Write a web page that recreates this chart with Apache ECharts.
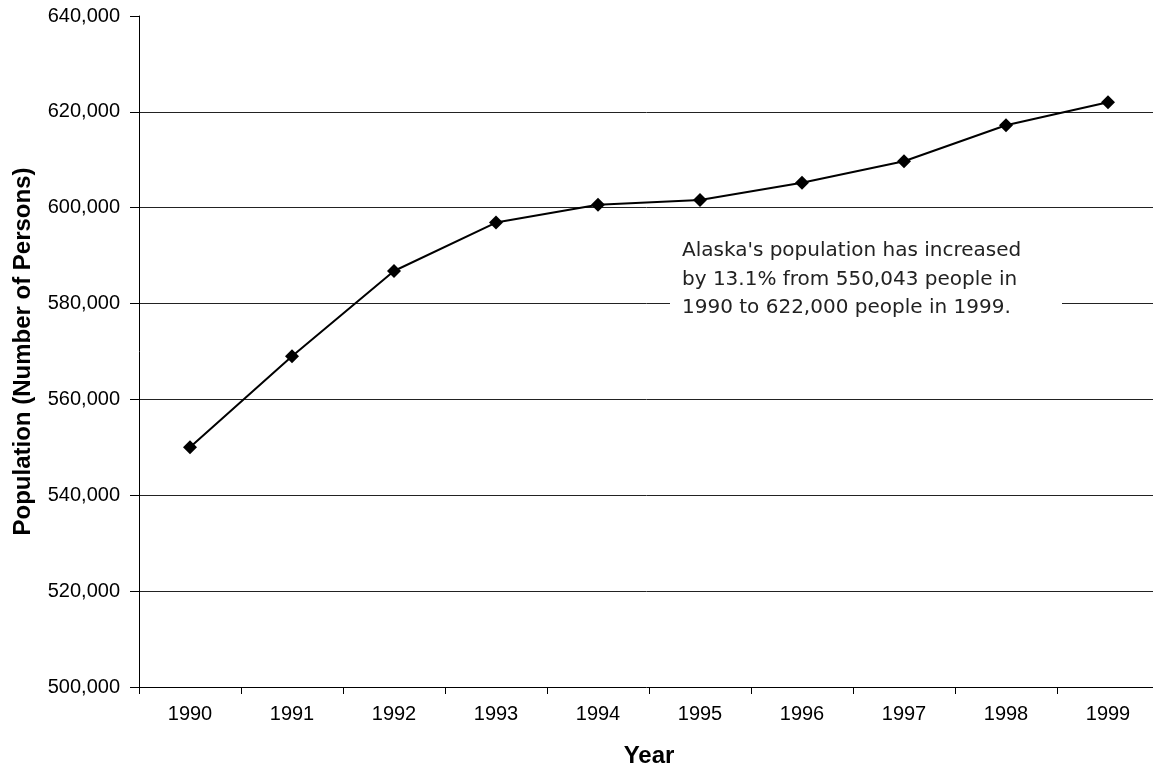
<!DOCTYPE html>
<html>
<head>
<meta charset="utf-8">
<title>Alaska Population 1990-1999</title>
<script src="https://cdn.jsdelivr.net/npm/echarts@6/dist/echarts.min.js"></script>
<style>
  html, body { margin: 0; padding: 0; background: #fff; }
  #chart { width: 1153px; height: 767px; }
</style>
</head>
<body>
<div id="chart"></div>
<script>
// Alaska resident population by year
const years = ['1990', '1991', '1992', '1993', '1994', '1995', '1996', '1997', '1998', '1999'];
const population = [550043, 569000, 586800, 596900, 600600, 601600, 605200, 609700, 617200, 622000];

const yMin = 500000;
const yMax = 640000;
const yStep = 20000;

const noteLines = [
  "Alaska's population has increased",
  'by 13.1% from 550,043 people in',
  '1990 to 622,000 people in 1999.'
];

const chart = echarts.init(document.getElementById('chart'), null, { renderer: 'canvas' });

const axisFont = 'Liberation Sans, Arial, sans-serif';

chart.setOption({
  backgroundColor: '#ffffff',
  animation: false,
  // plot runs slightly past the right edge of the canvas
  grid: { left: 139, width: 1020, top: 16, height: 671, containLabel: false, outerBoundsMode: 'none' },
  xAxis: {
    type: 'category',
    data: years,
    boundaryGap: true,
    name: 'Year',
    nameLocation: 'middle',
    nameGap: 57,
    nameTextStyle: { fontFamily: axisFont, fontWeight: 'bold', fontSize: 24, color: '#000' },
    axisLine: { show: true, lineStyle: { color: '#000', width: 1 } },
    axisTick: { show: true, interval: 0, length: 7, lineStyle: { color: '#000' } },
    axisLabel: { interval: 0, margin: 17, fontFamily: axisFont, fontSize: 20, color: '#000' },
    splitLine: { show: false }
  },
  yAxis: {
    type: 'value',
    min: yMin,
    max: yMax,
    interval: yStep,
    name: 'Population (Number of Persons)',
    nameLocation: 'middle',
    nameGap: 104,
    nameRotate: 90,
    nameTextStyle: { fontFamily: axisFont, fontWeight: 'bold', fontSize: 24, color: '#000' },
    axisLine: { show: true, lineStyle: { color: '#000', width: 1 } },
    axisTick: { show: true, inside: false, length: 9, lineStyle: { color: '#000' } },
    axisLabel: {
      margin: 19,
      fontFamily: axisFont,
      fontSize: 20,
      color: '#000',
      formatter: v => v.toLocaleString('en-US')
    },
    splitLine: { show: true, showMaxLine: false, showMinLine: false, lineStyle: { color: '#222', width: 1 } }
  },
  series: [{
    type: 'line',
    data: population,
    symbol: 'diamond',
    symbolSize: 14,
    showSymbol: true,
    lineStyle: { color: '#000', width: 2 },
    itemStyle: { color: '#000' },
    z: 5
  }],
  graphic: [
    {
      type: 'rect',
      z: 100,
      shape: { x: 670, y: 232, width: 392, height: 88 },
      style: { fill: '#ffffff' }
    },
    {
      type: 'text',
      z: 101,
      x: 682,
      y: 237,
      style: {
        text: noteLines.join('\n'),
        fill: '#222',
        font: '20px "DejaVu Sans", sans-serif',
        lineHeight: 28.5,
        textVerticalAlign: 'top'
      }
    }
  ]
});
</script>
</body>
</html>
